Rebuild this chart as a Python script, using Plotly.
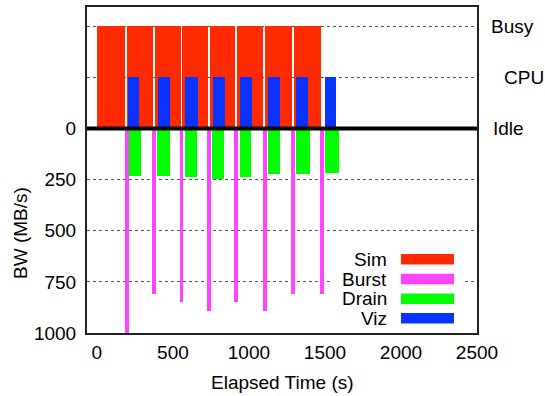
import plotly.graph_objects as go

# ---- data ----
sim_start = [2, 196, 382, 563, 741, 921, 1108, 1298]
sim_end = [188, 366, 550, 728, 908, 1095, 1281, 1477]

viz_start = [207, 399, 582, 761, 944, 1128, 1311, 1497]
viz_end = [275, 482, 663, 844, 1023, 1204, 1387, 1571]

drain_start = [207, 397, 578, 759, 938, 1124, 1309, 1503]
drain_end = [288, 478, 656, 836, 1016, 1206, 1399, 1590]
drain_bw = [231, 231, 239, 245, 237, 221, 221, 216]

burst_time = [196, 376, 556, 738, 916, 1105, 1289, 1482]
burst_bw = [1000, 810, 850, 890, 850, 890, 810, 810]
burst_width = 24

state_labels = ["Busy", "CPU", "Idle"]
state_levels = [-500, -250, 0]  # plotted upward (axis reversed)

y_tickvals = [-500, -250, 0, 250, 500, 750, 1000]
y_ticktext = ["", "", "0", "250", "500", "750", "1000"]
x_tickvals = [0, 500, 1000, 1500, 2000, 2500]

series_names = ["Sim", "Burst", "Drain", "Viz"]
colors = {"Sim": "#ff2a00", "Burst": "#ff44ff", "Drain": "#00ff00", "Viz": "#0a32ff"}

FONT = "Liberation Sans, Arial, Helvetica, sans-serif"
FS = 19

PLOT_BOTTOM = 333.0
PLOT_H = 326.0
def py_to_paper(py):
    return (PLOT_BOTTOM - py) / PLOT_H

def centers(s, e):
    return [(a + b) / 2 for a, b in zip(s, e)]

def widths(s, e):
    return [b - a for a, b in zip(s, e)]

fig = go.Figure()

fig.add_trace(go.Bar(name="Sim", x=centers(sim_start, sim_end), width=widths(sim_start, sim_end),
                     y=[state_levels[0]] * len(sim_start), base=0,
                     marker=dict(color=colors["Sim"], line=dict(width=0)), showlegend=False))
fig.add_trace(go.Bar(name="Viz", x=centers(viz_start, viz_end), width=widths(viz_start, viz_end),
                     y=[state_levels[1]] * len(viz_start), base=0,
                     marker=dict(color=colors["Viz"], line=dict(width=0)), showlegend=False))
fig.add_trace(go.Bar(name="Drain", x=centers(drain_start, drain_end), width=widths(drain_start, drain_end),
                     y=drain_bw, base=0,
                     marker=dict(color=colors["Drain"], line=dict(width=0)), showlegend=False))
fig.add_trace(go.Bar(name="Burst", x=burst_time, width=[burst_width] * len(burst_time),
                     y=burst_bw, base=0,
                     marker=dict(color=colors["Burst"], line=dict(width=0)), showlegend=False))

fig.update_layout(
    width=545, height=396,
    margin=dict(l=87, r=68, t=7, b=63, autoexpand=False),
    paper_bgcolor="white", plot_bgcolor="white",
    barmode="overlay", bargap=0,
    font=dict(family=FONT, size=FS, color="black"),
    showlegend=False,
)

fig.update_xaxes(range=[-65, 2500], tickvals=x_tickvals, showgrid=False, zeroline=False,
                 showline=True, mirror=True, linecolor="#222", linewidth=2,
                 ticks="", ticklabelstandoff=1, tickfont=dict(family=FONT, size=FS))
fig.update_yaxes(range=[1000, -594], tickvals=y_tickvals, ticktext=y_ticktext,
                 showgrid=True, griddash="dot", gridcolor="#555", gridwidth=1, zeroline=False,
                 showline=True, mirror=True, linecolor="#222", linewidth=2,
                 ticks="", ticklabelstandoff=5, tickfont=dict(family=FONT, size=FS))

# thick idle line at 0
fig.add_shape(type="line", xref="paper", yref="y", x0=0, x1=1, y0=0, y1=0,
              line=dict(color="black", width=4), layer="above")

# right-side state labels
label_x = [1.0315, 1.063, 1.035]
for t, lv, lx in zip(state_labels, state_levels, label_x):
    fig.add_annotation(text=t, xref="paper", yref="y", x=lx, y=lv, xanchor="left",
                       yanchor="middle", showarrow=False, font=dict(family=FONT, size=FS))

# axis titles
fig.add_annotation(text="Elapsed Time (s)", xref="paper", yref="paper", x=0.5, y=py_to_paper(382),
                   xanchor="center", yanchor="middle", showarrow=False,
                   font=dict(family=FONT, size=FS))
fig.add_annotation(text="BW (MB/s)", xref="paper", yref="y", x=(21 - 87) / 390, y=511,
                   xanchor="center", yanchor="middle", textangle=-90, showarrow=False,
                   font=dict(family=FONT, size=FS))

# manual legend (text left, swatch right)
fig.add_shape(type="rect", xref="paper", yref="paper", x0=0.623, x1=0.969,
              y0=py_to_paper(325), y1=py_to_paper(246),
              fillcolor="white", line=dict(width=0), layer="above")
row_px = [259.3, 279.0, 298.7, 318.3]
for name, py in zip(series_names, row_px):
    fig.add_shape(type="rect", xref="paper", yref="paper", x0=0.805, x1=0.941,
                  y0=py_to_paper(py + 5.3), y1=py_to_paper(py - 5.3),
                  fillcolor=colors[name], line=dict(width=0), layer="above")
    fig.add_annotation(text=name, xref="paper", yref="paper", x=0.774, y=py_to_paper(py),
                       xanchor="right", yanchor="middle", showarrow=False,
                       font=dict(family=FONT, size=FS))

fig.write_html("out.html", config={"displayModeBar": False},
               post_script="document.body.style.margin='0px';document.body.style.overflow='hidden';")
